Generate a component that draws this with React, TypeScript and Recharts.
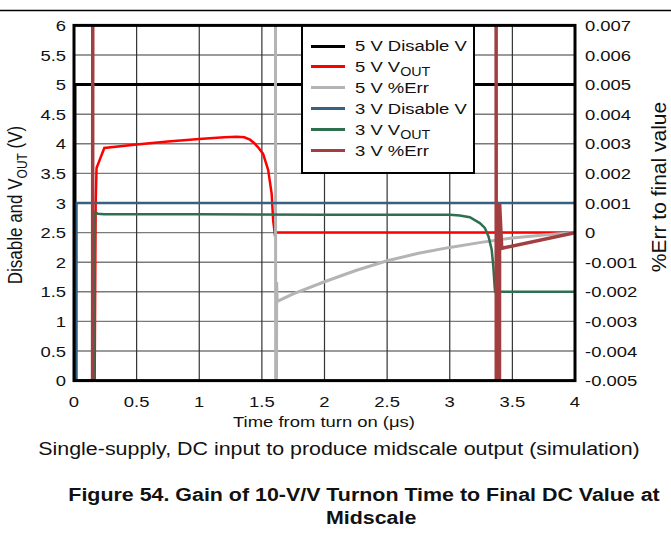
import React from 'react';
import { LineChart, Line, XAxis, YAxis, CartesianGrid, Legend } from 'recharts';

// time axis (µs) and tick labels
const xTicks = [0, 0.5, 1, 1.5, 2, 2.5, 3, 3.5, 4];
const vTicks = [0, 0.5, 1, 1.5, 2, 2.5, 3, 3.5, 4, 4.5, 5, 5.5, 6];
const errTicks = [-0.005, -0.004, -0.003, -0.002, -0.001, 0, 0.001, 0.002, 0.003, 0.004, 0.005, 0.006, 0.007];

// 5 V supply
const dis5T = [0.008, 0.008, 4];
const dis5V = [0, 5, 5];
const vout5T = [0, 0.165, 0.173, 0.18, 0.242, 0.5, 0.75, 1.0, 1.2, 1.3, 1.36, 1.405, 1.44, 1.47, 1.51, 1.55, 1.578, 1.59, 1.603, 1.61, 4];
const vout5V = [0, 0, 3.0, 3.59, 3.93, 3.99, 4.04, 4.08, 4.11, 4.12, 4.11, 4.07, 4.01, 3.94, 3.83, 3.56, 3.16, 2.71, 2.48, 2.5, 2.5];
const err5T = [1.607, 1.612, 1.618, 1.622, 1.63, 1.75, 2.0, 2.25, 2.5, 2.75, 3.0, 3.25, 3.5, 3.75, 4];
const err5V = [0.02, -0.02, -0.00167, -0.00231, -0.00231, -0.00207, -0.00166, -0.00128, -0.00095, -0.0007, -0.0005, -0.00033, -0.00018, -0.00008, 0];

// 3 V supply
const dis3T = [0.02, 0.02, 4];
const dis3V = [0, 3, 3];
const vout3T = [0, 0.16, 0.168, 0.19, 0.24, 1.0, 2.0, 3.0, 3.08, 3.16, 3.24, 3.28, 3.31, 3.335, 3.348, 3.358, 3.362, 4];
const vout3V = [0, 0, 2.84, 2.82, 2.81, 2.81, 2.8, 2.8, 2.79, 2.76, 2.66, 2.58, 2.43, 2.21, 1.92, 1.6, 1.5, 1.5];
const err3T = [0.146, 0.152, 3.368, 3.374, 3.393, 3.398, 3.415, 4];
const err3V = [-0.03, 0.03, 0.03, -0.03, -0.03, 0.001, -0.00053, 0];

const FONT = '"Liberation Sans", Arial, Helvetica, sans-serif';
const SX = 1.19; // the figure is a little wider than tall

const zip = (ts: number[], vs: number[]) => ts.map((t, i) => ({ t, v: vs[i] }));

const series = [
  { key: 'd5', name: '5 V Disable V', color: '#000000', width: 3, axis: 0, data: zip(dis5T, dis5V) },
  { key: 'o5', name: '5 V VOUT', color: '#ff0000', width: 2.5, axis: 0, data: zip(vout5T, vout5V) },
  { key: 'e5', name: '5 V %Err', color: '#b4b4b4', width: 3, axis: 'right', data: zip(err5T, err5V) },
  { key: 'd3', name: '3 V Disable V', color: '#356182', width: 2.5, axis: 0, data: zip(dis3T, dis3V) },
  { key: 'o3', name: '3 V VOUT', color: '#2e6f4f', width: 2.5, axis: 0, data: zip(vout3T, vout3V) },
  { key: 'e3', name: '3 V %Err', color: '#a23e40', width: 3.5, axis: 'right', data: zip(err3T, err3V) },
];

const tickFactory = (dy: string) => (props: any) => {
  const { x, y, payload, textAnchor } = props;
  return (
    <g transform={`translate(${x},${y}) scale(${SX},1)`}>
      <text x={0} y={0} dy={dy} textAnchor={textAnchor} fontSize={15.5} fill="#111" fontFamily={FONT}>
        {payload.value}
      </text>
    </g>
  );
};

function label(name: string) {
  if (!name.endsWith('VOUT')) return name;
  return (
    <>
      {name.slice(0, -3)}
      <span style={{ fontSize: 12, position: 'relative', top: 4 }}>OUT</span>
    </>
  );
}

function LegendBox() {
  return (
    <div style={{ position: 'relative', width: 174, height: 150, border: '2px solid #000', background: '#fff', boxSizing: 'border-box', fontFamily: FONT, fontSize: 15.5, color: '#111' }}>
      {series.map((s, i) => (
        <div key={s.key} style={{ position: 'absolute', left: 0, top: 10 + i * 20.9, height: 20, width: 170 }}>
          <div style={{ position: 'absolute', left: 8, top: 8.5, width: 34, height: 3, background: s.color }} />
          <div style={{ position: 'absolute', left: 52, top: 0, lineHeight: '20px', whiteSpace: 'nowrap', transform: `scaleX(${SX})`, transformOrigin: 'left center' }}>
            {label(s.name)}
          </div>
        </div>
      ))}
    </div>
  );
}

const L = 74, R = 575, T = 25.4, B = 380.6;

export default function App() {
  return (
    <div style={{ position: 'absolute', left: 0, top: 0, width: 671, height: 539, background: '#fff' }}>
      <LineChart width={671} height={539} margin={{ top: T, right: 0, bottom: 539 - B - 30, left: 0 }}>
        <CartesianGrid vertical={false} stroke="#7a7a7a" strokeWidth={1.4} />
        <CartesianGrid horizontal={false} stroke="#333" strokeWidth={1.2} />
        <XAxis dataKey="t" type="number" domain={[0, 4]} ticks={xTicks} interval={0} allowDataOverflow
          height={30} axisLine={false} tickLine={false} tickSize={0} tickMargin={15} tick={tickFactory('0.71em')} />
        <YAxis domain={[0, 6]} ticks={vTicks} interval={0} allowDataOverflow width={L}
          axisLine={false} tickLine={false} tickSize={0} tickMargin={8} tick={tickFactory('0.355em')} />
        <YAxis yAxisId="right" orientation="right" domain={[-0.005, 0.007]} ticks={errTicks} interval={0} allowDataOverflow
          width={671 - R} axisLine={false} tickLine={false} tickSize={0} tickMargin={10} tick={tickFactory('0.355em')} />
        {series.map((s) => (
          <Line key={s.key} yAxisId={s.axis} data={s.data} dataKey="v" name={s.name} type="linear"
            stroke={s.color} strokeWidth={s.width} dot={false} activeDot={false} isAnimationActive={false} />
        ))}
        <Legend layout="vertical" align="center" verticalAlign="middle"
          wrapperStyle={{ left: 301, top: 24, width: 174, height: 150 }} content={() => <LegendBox />} />
      </LineChart>
      <svg width={671} height={539} style={{ position: 'absolute', left: 0, top: 0, pointerEvents: 'none' }} fontFamily={FONT} fill="#111">
        <line x1={0} x2={671} y1={10.5} y2={10.5} stroke="#000" strokeWidth={1.3} />
        <rect x={L} y={T} width={R - L} height={B - T} fill="none" stroke="#000" strokeWidth={3} />
        <g transform={`translate(22,205) scale(${SX},1) rotate(-90)`}>
          <text textAnchor="middle" fontSize={17} y={0}>
            Disable and V<tspan fontSize={12} dy={4}>OUT</tspan><tspan dy={-4}> (V)</tspan>
          </text>
        </g>
        <g transform="translate(666,187) rotate(-90)">
          <text textAnchor="middle" fontSize={21} y={0}>%Err to final value</text>
        </g>
        <g transform={`translate(324,426.5) scale(${SX},1)`}>
          <text textAnchor="middle" fontSize={15.5}>Time from turn on (μs)</text>
        </g>
        <g transform={`translate(339,454.5) scale(${SX},1)`}>
          <text textAnchor="middle" fontSize={18}>Single-supply, DC input to produce midscale output (simulation)</text>
        </g>
        <g transform={`translate(364,501) scale(${SX},1)`} fontWeight="bold">
          <text textAnchor="middle" fontSize={18}>Figure 54. Gain of 10-V/V Turnon Time to Final DC Value at</text>
          <text textAnchor="middle" fontSize={18} x={6} y={23}>Midscale</text>
        </g>
      </svg>
    </div>
  );
}
